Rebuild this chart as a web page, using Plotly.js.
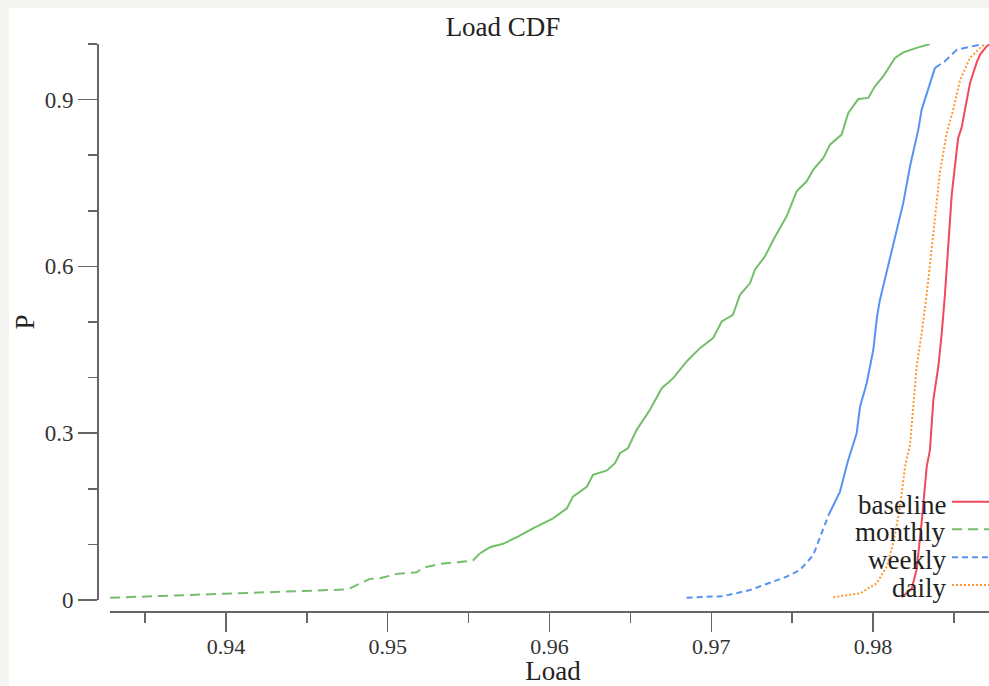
<!DOCTYPE html>
<html><head><meta charset="utf-8">
<script src="https://cdn.plot.ly/plotly-3.0.1.min.js"></script>
<style>
html,body{margin:0;padding:0;width:989px;height:686px;overflow:hidden;background:#f4f5f1;}
#chart{position:absolute;left:9px;top:8px;width:988px;height:678px;background:#fff;}
</style></head><body><div id="chart"></div>
<script>
// ---- data ----
const seriesNames = ['baseline', 'monthly', 'weekly', 'daily'];

const monthlyX = [0.93283,0.94087,0.94457,0.94748,0.94766,0.9489,0.94952,0.95055,0.95179,0.95218,0.95323,0.95527,0.9557,0.95632,0.95713,0.95799,0.95898,0.96022,0.96108,0.96145,0.96232,0.96269,0.96355,0.96405,0.96436,0.96485,0.96539,0.96621,0.96694,0.96765,0.96848,0.9693,0.97011,0.97065,0.97134,0.97178,0.9724,0.9727,0.97332,0.97384,0.97466,0.97528,0.9759,0.97631,0.97693,0.97734,0.97806,0.97847,0.97909,0.97971,0.98012,0.98064,0.98136,0.98187,0.9827,0.98352];
const monthlyP = [0.004,0.012,0.016,0.019,0.021,0.038,0.039,0.047,0.050,0.058,0.065,0.071,0.084,0.095,0.101,0.113,0.129,0.147,0.165,0.186,0.204,0.225,0.233,0.246,0.264,0.273,0.306,0.342,0.381,0.399,0.429,0.453,0.471,0.501,0.513,0.549,0.570,0.594,0.618,0.648,0.690,0.735,0.753,0.774,0.795,0.819,0.837,0.876,0.901,0.903,0.924,0.942,0.975,0.985,0.993,1.0];

const weeklyX = [0.96848,0.97075,0.9724,0.97384,0.97466,0.97549,0.97631,0.97724,0.97796,0.97845,0.97899,0.9792,0.97961,0.98002,0.98025,0.98043,0.98105,0.98147,0.98187,0.98229,0.9828,0.98301,0.98383,0.98445,0.98519,0.9868];
const weeklyP = [0.004,0.007,0.018,0.033,0.042,0.054,0.081,0.152,0.195,0.25,0.30,0.348,0.39,0.45,0.51,0.54,0.617,0.666,0.714,0.78,0.846,0.882,0.957,0.969,0.99,1.0];

const dailyX = [0.97755,0.9792,0.98023,0.98085,0.9813,0.98167,0.98198,0.98229,0.9827,0.98301,0.98332,0.98373,0.98414,0.98456,0.98496,0.98538,0.986,0.98662,0.98692];
const dailyP = [0.005,0.012,0.03,0.06,0.108,0.168,0.24,0.28,0.42,0.48,0.55,0.66,0.77,0.84,0.882,0.935,0.975,0.993,1.0];

const baselineX = [0.98177,0.98239,0.9827,0.98301,0.98332,0.98352,0.98373,0.98404,0.98425,0.98445,0.98487,0.98526,0.98548,0.98579,0.986,0.98641,0.98662,0.98703,0.98723];
const baselineP = [0.005,0.02,0.055,0.14,0.24,0.27,0.36,0.42,0.48,0.55,0.73,0.83,0.85,0.894,0.93,0.967,0.981,0.996,1.0];

// ---- styles ----
const colors = {baseline:'#f2495c', monthly:'#73bf69', weekly:'#5794f2', daily:'#ff9830'};
const dashes = {baseline:'solid', monthly:'10px,6px', weekly:'6px,4px', daily:'2px,2px'};
const LW = 2;

function part(name, xs, ys, a, b, dash) {
  return {
    type:'scatter', mode:'lines', name:name, showlegend:false, hoverinfo:'skip',
    x: xs.slice(a, b), y: ys.slice(a, b),
    line:{color:colors[name], width:LW, dash:dash}
  };
}

// Sparse tails are dashed, dense parts render solid (as in the reference)
const traces = [
  part('monthly', monthlyX, monthlyP, 0, 13, dashes.monthly),
  part('monthly', monthlyX, monthlyP, 12, monthlyX.length, 'solid'),
  part('weekly', weeklyX, weeklyP, 0, 8, dashes.weekly),
  part('weekly', weeklyX, weeklyP, 7, 23, 'solid'),
  part('weekly', weeklyX, weeklyP, 22, weeklyX.length, '7px,4px'),
  part('daily', dailyX, dailyP, 0, dailyX.length, dashes.daily),
  part('baseline', baselineX, baselineP, 0, baselineX.length, 'solid')
];

// ---- layout geometry (pixels inside the 988x678 card) ----
const W = 988, H = 678;
const ML = 88, MR = 1, MT = 36, MB = 75;
const PW = W - ML - MR, PH = H - MT - MB;
const axisColor = '#666';

// legend (text left of line is not supported by Plotly's legend; drawn manually)
const legTextX = (939 - ML) / PW;
const legLineX0 = (943 - ML) / PW, legLineX1 = (995 - ML) / PW;
const legY = [493.7, 521.3, 549.3, 577].map(v => (H - MB - v) / PH);

const annotations = seriesNames.map((n, i) => ({
  xref:'paper', yref:'paper', x:legTextX, y:legY[i], xanchor:'right', yanchor:'middle',
  text:n, showarrow:false, font:{size:27, color:'#222', family:'Liberation Serif'}, yshift:-3
}));
const shapes = seriesNames.map((n, i) => ({
  type:'line', xref:'paper', yref:'paper', x0:legLineX0, x1:legLineX1, y0:legY[i], y1:legY[i],
  line:{color:colors[n], width:LW, dash:dashes[n]}
}));

const layout = {
  width:W, height:H,
  margin:{l:ML, r:MR, t:MT, b:MB, pad:0},
  paper_bgcolor:'#ffffff', plot_bgcolor:'#ffffff',
  font:{family:'Liberation Serif', color:'#333'},
  showlegend:false,
  title:{text:'Load CDF', xref:'container', x:0.5, xanchor:'center', yref:'container', y:1 - 19/H, yanchor:'middle', font:{size:27, color:'#222'}},
  xaxis:{
    domain:[13/PW, 1], range:[0.93283, 0.987604], anchor:'free', position:0,
    showline:true, linecolor:axisColor, linewidth:1.5, showgrid:false, zeroline:false,
    ticks:'outside', ticklen:19, tickwidth:1.5, tickcolor:axisColor, tick0:0, dtick:0.01,
    tickfont:{size:22, color:'#333'}, ticklabelstandoff:-4,
    minor:{dtick:0.005, ticks:'outside', ticklen:10, tickwidth:1.5, tickcolor:axisColor},
    title:{text:'Load', font:{size:27, color:'#222'}, standoff:6}, automargin:false
  },
  yaxis:{
    domain:[11/PH, 1], range:[0, 1], anchor:'free', position:0,
    showline:true, linecolor:axisColor, linewidth:1.5, showgrid:false, zeroline:false,
    ticks:'outside', ticklen:19, tickwidth:1.5, tickcolor:axisColor, tick0:0, dtick:0.3,
    tickfont:{size:23, color:'#333'},
    minor:{dtick:0.1, ticks:'outside', ticklen:9, tickwidth:1.5, tickcolor:axisColor},
    title:{text:'P', font:{size:27, color:'#222'}, standoff:0}, automargin:false
  },
  annotations:annotations,
  shapes:shapes
};

Plotly.newPlot('chart', traces, layout, {displayModeBar:false, staticPlot:true});
</script></body></html>
